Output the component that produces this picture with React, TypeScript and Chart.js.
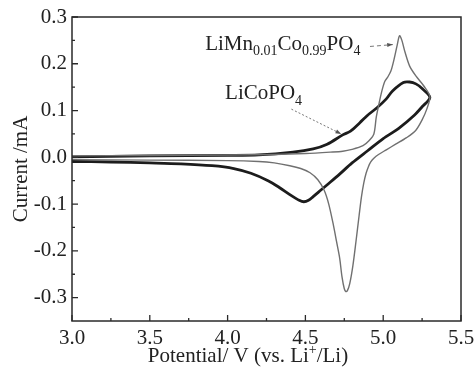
import React, { useEffect, useRef } from "react";
import { Chart, registerables } from "chart.js";

Chart.register(...registerables);

// ---- Data ----
const xTicks = [3.0, 3.5, 4.0, 4.5, 5.0, 5.5];
const yTicks = [-0.3, -0.2, -0.1, 0.0, 0.1, 0.2, 0.3];
const xMinorTicks = [3.25, 3.75, 4.25, 4.75, 5.25];
const yMinorTicks = [-0.25, -0.15, -0.05, 0.05, 0.15, 0.25];

// LiCoPO4 (thick black) – anodic sweep then cathodic return
const licoPotential = [
  3.0, 3.5, 4.0, 4.2, 4.42, 4.55, 4.64, 4.74, 4.79, 4.85, 4.9, 4.96, 5.02, 5.06, 5.13, 5.17, 5.21, 5.25, 5.3,
  5.25, 5.2, 5.1, 5.0, 4.9, 4.8, 4.72, 4.65, 4.6, 4.55, 4.52, 4.49, 4.46, 4.41, 4.33, 4.26, 4.15, 4.04, 3.9, 3.7, 3.5, 3.25, 3.0,
];
const licoCurrent = [
  0.001, 0.003, 0.004, 0.005, 0.011, 0.018, 0.028, 0.048, 0.056, 0.074, 0.09, 0.106, 0.125, 0.142, 0.16, 0.161, 0.157, 0.147, 0.128,
  0.108, 0.09, 0.062, 0.04, 0.014, -0.012, -0.036, -0.056, -0.07, -0.084, -0.092, -0.095, -0.092, -0.082, -0.064, -0.05, -0.034, -0.024, -0.018, -0.014, -0.012, -0.01, -0.009,
];

// LiMn0.01Co0.99PO4 (thin grey)
const limnPotential = [
  3.0, 3.5, 4.0, 4.3, 4.5, 4.66, 4.74, 4.8, 4.87, 4.91, 4.94, 4.955, 4.97, 4.99, 5.01, 5.03, 5.05, 5.07, 5.09, 5.105, 5.12, 5.14, 5.17, 5.21, 5.26, 5.3,
  5.28, 5.25, 5.21, 5.15, 5.08, 5.02, 4.97, 4.94, 4.92, 4.905, 4.89, 4.875, 4.86, 4.845, 4.825, 4.805, 4.785, 4.77, 4.76, 4.75, 4.735, 4.72, 4.7, 4.68, 4.65, 4.62, 4.58, 4.53, 4.47, 4.4, 4.3, 4.2, 4.0, 3.5, 3.0,
];
const limnCurrent = [
  0.003, 0.004, 0.005, 0.006, 0.008, 0.011, 0.013, 0.017, 0.025, 0.036, 0.05, 0.085, 0.11, 0.14, 0.162, 0.172, 0.185, 0.21, 0.24, 0.26, 0.25, 0.225, 0.195, 0.174, 0.153, 0.13,
  0.103, 0.08, 0.058, 0.042, 0.028, 0.016, 0.006, -0.002, -0.01, -0.02, -0.034, -0.055, -0.085, -0.125, -0.18, -0.232, -0.27, -0.285, -0.287, -0.281, -0.255, -0.215, -0.18, -0.145, -0.1, -0.07, -0.048, -0.033, -0.024, -0.018, -0.012, -0.009, -0.007, -0.006, -0.005,
];

const SERIF = "'Liberation Serif', 'Times New Roman', 'DejaVu Serif', serif";

const toPoints = (xs: number[], ys: number[]) => xs.map((v, i) => ({ x: v, y: ys[i] }));

type Part = [string, "n" | "sub" | "sup"];

function drawParts(ctx: CanvasRenderingContext2D, parts: Part[], x: number, y: number, size: number, align: "left" | "center") {
  const subSize = Math.round(size * 0.66);
  const widths = parts.map(([t, k]) => {
    ctx.font = `${k === "n" ? size : subSize}px ${SERIF}`;
    return ctx.measureText(t).width;
  });
  const total = widths.reduce((a, b) => a + b, 0);
  let cx = align === "center" ? x - total / 2 : x;
  ctx.textAlign = "left";
  ctx.textBaseline = "alphabetic";
  parts.forEach(([t, k], i) => {
    ctx.font = `${k === "n" ? size : subSize}px ${SERIF}`;
    const dy = k === "sub" ? size * 0.25 : k === "sup" ? -size * 0.38 : 0;
    ctx.fillText(t, cx, y + dy);
    cx += widths[i];
  });
}

const decorPlugin = {
  id: "decor",
  afterDatasetsDraw(chart: any) {
    const { ctx, chartArea: a, scales } = chart;
    const xs = scales.x;
    const ys = scales.y;
    ctx.save();
    // frame
    ctx.strokeStyle = "#2a2a2a";
    ctx.lineWidth = 1.5;
    ctx.strokeRect(a.left, a.top, a.right - a.left, a.bottom - a.top);
    // inward ticks
    ctx.lineWidth = 1.3;
    ctx.beginPath();
    xTicks.forEach((v) => {
      const px = xs.getPixelForValue(v);
      ctx.moveTo(px, a.bottom);
      ctx.lineTo(px, a.bottom - 6);
    });
    xMinorTicks.forEach((v) => {
      const px = xs.getPixelForValue(v);
      ctx.moveTo(px, a.bottom);
      ctx.lineTo(px, a.bottom - 3);
    });
    yTicks.forEach((v) => {
      const py = ys.getPixelForValue(v);
      ctx.moveTo(a.left, py);
      ctx.lineTo(a.left + 6, py);
    });
    yMinorTicks.forEach((v) => {
      const py = ys.getPixelForValue(v);
      ctx.moveTo(a.left, py);
      ctx.lineTo(a.left + 3, py);
    });
    ctx.stroke();

    ctx.fillStyle = "#222";
    // series labels
    drawParts(
      ctx,
      [["LiMn", "n"], ["0.01", "sub"], ["Co", "n"], ["0.99", "sub"], ["PO", "n"], ["4", "sub"]],
      xs.getPixelForValue(3.856),
      ys.getPixelForValue(0.23),
      21,
      "left"
    );
    drawParts(
      ctx,
      [["LiCoPO", "n"], ["4", "sub"]],
      xs.getPixelForValue(3.984),
      ys.getPixelForValue(0.124),
      21,
      "left"
    );

    // leader lines
    const arrow = (x0: number, y0: number, x1: number, y1: number, dash: number[]) => {
      const p0 = [xs.getPixelForValue(x0), ys.getPixelForValue(y0)];
      const p1 = [xs.getPixelForValue(x1), ys.getPixelForValue(y1)];
      ctx.strokeStyle = "#777";
      ctx.lineWidth = 1;
      ctx.setLineDash(dash);
      ctx.beginPath();
      ctx.moveTo(p0[0], p0[1]);
      ctx.lineTo(p1[0], p1[1]);
      ctx.stroke();
      ctx.setLineDash([]);
      const ang = Math.atan2(p1[1] - p0[1], p1[0] - p0[0]);
      ctx.fillStyle = "#555";
      ctx.beginPath();
      ctx.moveTo(p1[0], p1[1]);
      ctx.lineTo(p1[0] - 6 * Math.cos(ang - 0.35), p1[1] - 6 * Math.sin(ang - 0.35));
      ctx.lineTo(p1[0] - 6 * Math.cos(ang + 0.35), p1[1] - 6 * Math.sin(ang + 0.35));
      ctx.closePath();
      ctx.fill();
    };
    arrow(4.41, 0.103, 4.73, 0.05, [2, 2]);
    arrow(4.915, 0.237, 5.062, 0.241, [4, 3]);

    // axis titles
    ctx.fillStyle = "#222";
    drawParts(
      ctx,
      [["Potential/ V (vs. Li", "n"], ["+", "sup"], ["/Li)", "n"]],
      248,
      362,
      21,
      "center"
    );
    ctx.save();
    ctx.translate(27, (a.top + a.bottom) / 2);
    ctx.rotate(-Math.PI / 2);
    drawParts(ctx, [["Current /mA", "n"]], 0, 0, 21, "center");
    ctx.restore();

    ctx.restore();
  },
};

export default function App() {
  const ref = useRef<HTMLCanvasElement | null>(null);

  useEffect(() => {
    document.body.style.margin = "0";
    const canvas = ref.current;
    if (!canvas) return;
    const chart = new Chart(canvas, {
      type: "line",
      data: {
        datasets: [
          {
            label: "LiMn0.01Co0.99PO4",
            data: toPoints(limnPotential, limnCurrent),
            borderColor: "#707070",
            borderWidth: 1.4,
            pointRadius: 0,
            tension: 0.3,
            fill: false,
          },
          {
            label: "LiCoPO4",
            data: toPoints(licoPotential, licoCurrent),
            borderColor: "#1c1c1c",
            borderWidth: 2.8,
            pointRadius: 0,
            tension: 0.3,
            fill: false,
          },
        ],
      },
      options: {
        responsive: false,
        animation: false,
        devicePixelRatio: 1,
        layout: { padding: { left: 0, top: 17, right: 13, bottom: 0 } },
        plugins: {
          legend: { display: false },
          tooltip: { enabled: false },
        },
        scales: {
          x: {
            type: "linear",
            min: 3.0,
            max: 5.5,
            grid: { display: false, drawTicks: false },
            border: { display: false },
            ticks: {
              padding: 5,
              maxRotation: 0,
              autoSkip: false,
              color: "#222",
              font: { family: SERIF, size: 21 },
              callback: (v: any) => Number(v).toFixed(1),
            },
            afterBuildTicks: (s: any) => {
              s.ticks = xTicks.map((v) => ({ value: v }));
            },
            afterFit: (s: any) => {
              s.height = 50;
              s.paddingLeft = 0;
              s.paddingRight = 0;
            },
          },
          y: {
            type: "linear",
            min: -0.35,
            max: 0.3,
            grid: { display: false, drawTicks: false },
            border: { display: false },
            ticks: {
              padding: 5,
              color: "#222",
              font: { family: SERIF, size: 21 },
              callback: (v: any) => Number(v).toFixed(1),
            },
            afterBuildTicks: (s: any) => {
              s.ticks = yTicks.map((v) => ({ value: v }));
            },
            afterFit: (s: any) => {
              s.width = 72;
              s.paddingTop = 0;
              s.paddingBottom = 0;
            },
          },
        },
      },
      plugins: [decorPlugin],
    });
    return () => chart.destroy();
  }, []);

  return (
    <div style={{ width: 474, height: 371, background: "#fff" }}>
      <canvas ref={ref} width={474} height={371} />
    </div>
  );
}
